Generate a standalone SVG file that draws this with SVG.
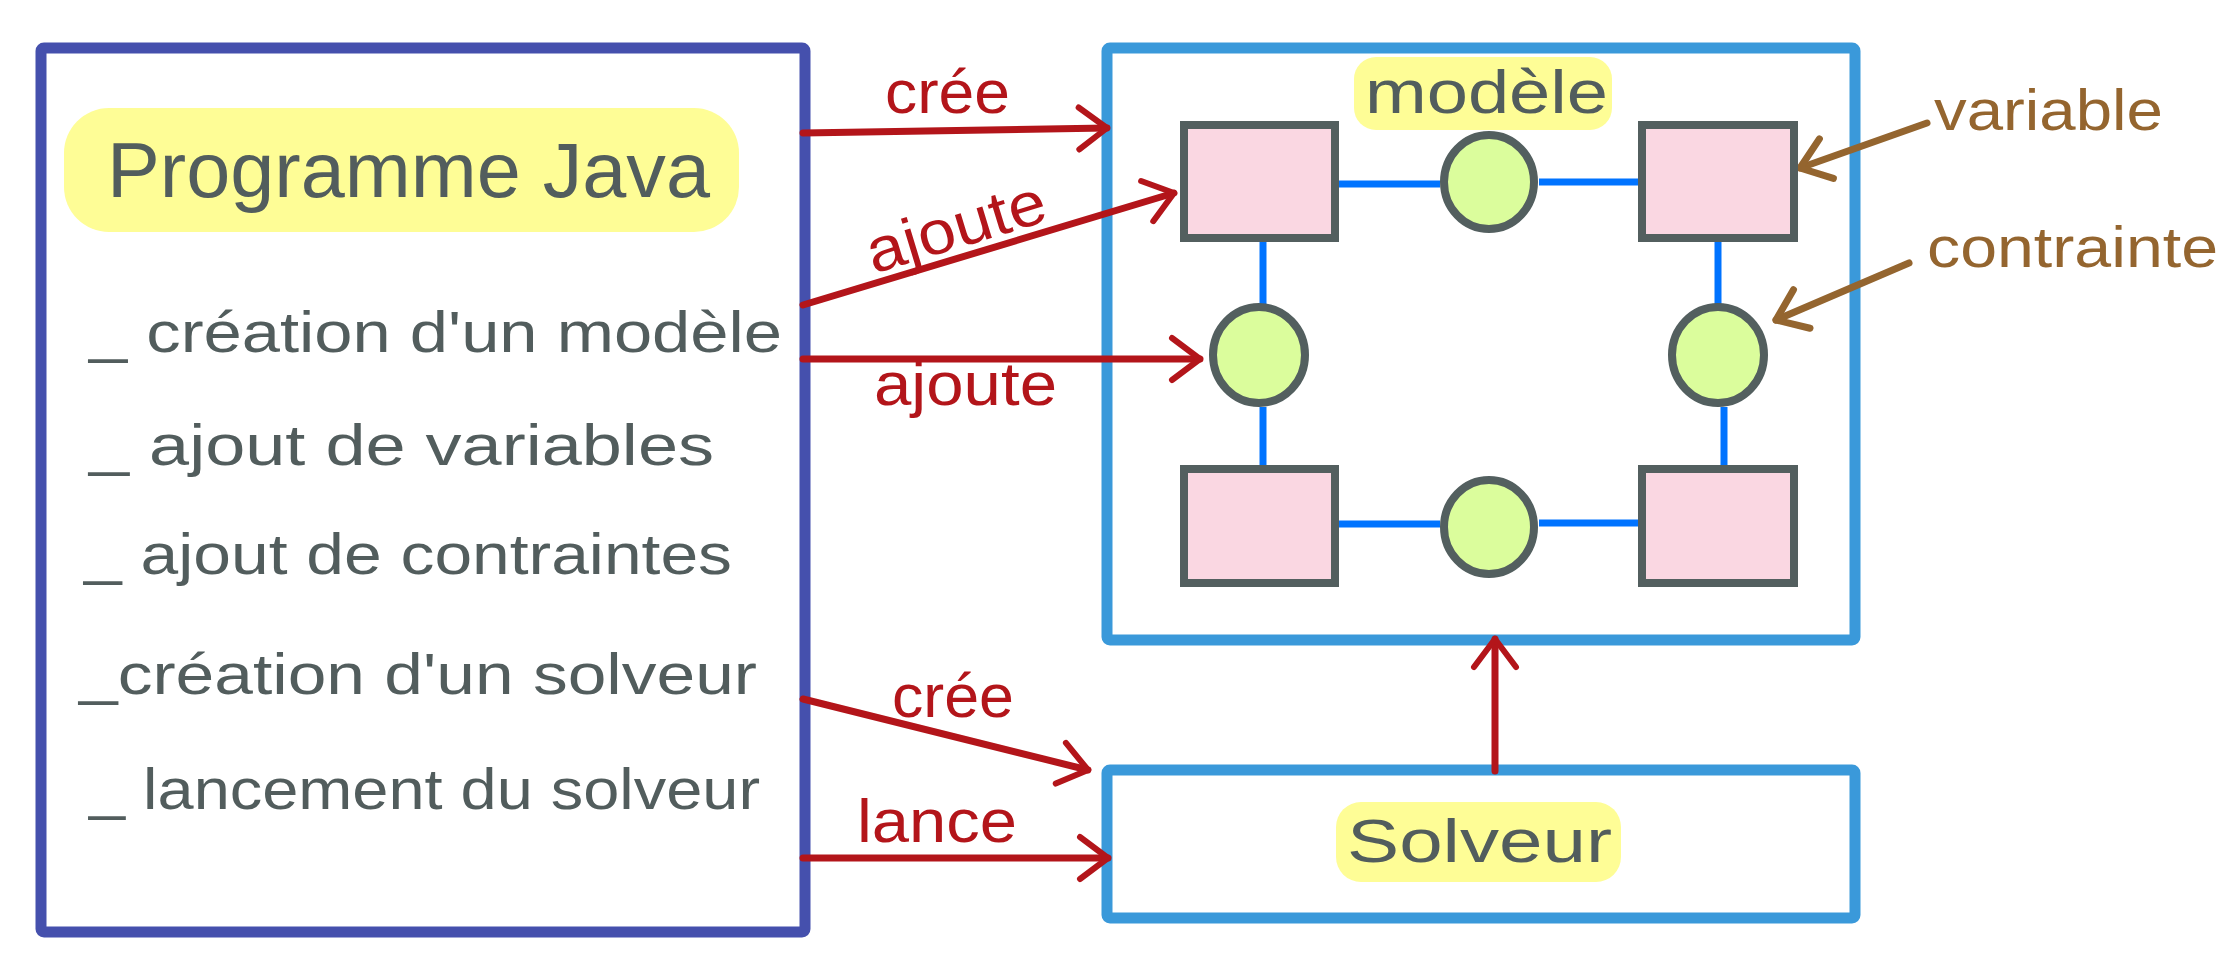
<svg xmlns="http://www.w3.org/2000/svg" width="2238" height="968" viewBox="0 0 2238 968">
<style>
  .frame{fill:#ffffff;stroke-width:11;stroke-linejoin:round}
  .txt{font-family:"Liberation Sans",Arial,sans-serif;fill:#525d5d}
  .red{font-family:"Liberation Sans",Arial,sans-serif;fill:#b3151a}
  .brown{font-family:"Liberation Sans",Arial,sans-serif;fill:#94652f}
  .hl{fill:#fefd96}
  .var{fill:#fad7e2;stroke:#535f5f;stroke-width:8}
  .con{fill:#dbfd9c;stroke:#535f5f;stroke-width:8}
  .edge{stroke:#0073ff;stroke-width:7;fill:none}
  .arr{stroke:#b3151a;stroke-width:7;fill:none;stroke-linecap:round;marker-end:url(#redhead)}
  .arrb{stroke:#94652f;stroke-width:7;fill:none;stroke-linecap:round;marker-end:url(#brownhead)}
</style>
<defs>
  <marker id="redhead" markerUnits="userSpaceOnUse" viewBox="-40 -30 50 60" refX="0" refY="0" markerWidth="50" markerHeight="60" orient="auto">
    <path d="M-28,-21 L0,0 L-28,21" fill="none" stroke="#b3151a" stroke-width="6" stroke-linecap="round" stroke-linejoin="round"/>
  </marker>
  <marker id="brownhead" markerUnits="userSpaceOnUse" viewBox="-40 -30 50 60" refX="0" refY="0" markerWidth="50" markerHeight="60" orient="auto">
    <path d="M-28,-21 L0,0 L-28,21" fill="none" stroke="#94652f" stroke-width="7" stroke-linecap="round" stroke-linejoin="round"/>
  </marker>
</defs>
<rect width="2238" height="968" fill="#ffffff"/>

<g id="programme">
  <rect class="frame" x="41" y="48" width="764" height="884" rx="3" stroke="#4550ad"/>
  <rect class="hl" x="64" y="108" width="675" height="124" rx="45"/>
  <text class="txt" x="107" y="197" font-size="78" textLength="603" lengthAdjust="spacingAndGlyphs">Programme Java</text>
  <text class="txt" x="89" y="352" font-size="58" textLength="693" lengthAdjust="spacingAndGlyphs">_ création d'un modèle</text>
  <text class="txt" x="89" y="465" font-size="58" textLength="625" lengthAdjust="spacingAndGlyphs">_ ajout de variables</text>
  <text class="txt" x="84" y="574" font-size="58" textLength="648" lengthAdjust="spacingAndGlyphs">_ ajout de contraintes</text>
  <text class="txt" x="79" y="694" font-size="58" textLength="678" lengthAdjust="spacingAndGlyphs">_création d'un solveur</text>
  <text class="txt" x="89" y="809" font-size="58" textLength="671" lengthAdjust="spacingAndGlyphs">_ lancement du solveur</text>
</g>

<g id="modele">
  <rect class="frame" x="1107" y="48" width="748" height="592" rx="3" stroke="#3a99da"/>
  <rect class="hl" x="1354" y="57" width="258" height="73" rx="22"/>
  <text class="txt" x="1365" y="113" font-size="62" textLength="243" lengthAdjust="spacingAndGlyphs">modèle</text>
</g>

<g id="solveur">
  <rect class="frame" x="1107" y="770" width="748" height="148" rx="3" stroke="#3a99da"/>
  <rect class="hl" x="1336" y="802" width="285" height="80" rx="25"/>
  <text class="txt" x="1347" y="862" font-size="62" textLength="265" lengthAdjust="spacingAndGlyphs">Solveur</text>
</g>

<g id="connectors">
  <line class="edge" x1="1339" y1="184" x2="1440" y2="184"/>
  <line class="edge" x1="1539" y1="182" x2="1638" y2="182"/>
  <line class="edge" x1="1263" y1="242" x2="1263" y2="304"/>
  <line class="edge" x1="1263" y1="407" x2="1263" y2="465"/>
  <line class="edge" x1="1718" y1="242" x2="1718" y2="304"/>
  <line class="edge" x1="1724" y1="407" x2="1724" y2="465"/>
  <line class="edge" x1="1339" y1="524" x2="1440" y2="524"/>
  <line class="edge" x1="1539" y1="523" x2="1638" y2="523"/>

  <path class="arr" d="M803 133 L1107 128"/>
  <path class="arr" d="M803 305 L1174 193"/>
  <path class="arr" d="M803 359 L1200 359"/>
  <path class="arr" d="M803 699 L1088 770"/>
  <path class="arr" d="M803 858 L1108 858"/>
  <path class="arr" d="M1495 771 L1495 639" stroke-width="6"/>
  <path class="arrb" d="M1927 123 L1800 168"/>
  <path class="arrb" d="M1909 263 L1776 320"/>

  <text class="red" x="885" y="113" font-size="62" textLength="125" lengthAdjust="spacingAndGlyphs">crée</text>
  <text class="red" x="962" y="247" font-size="62" text-anchor="middle" textLength="185" lengthAdjust="spacingAndGlyphs" transform="rotate(-17 962 247)">ajoute</text>
  <text class="red" x="874" y="405" font-size="62" textLength="183" lengthAdjust="spacingAndGlyphs">ajoute</text>
  <text class="red" x="892" y="717" font-size="62" textLength="122" lengthAdjust="spacingAndGlyphs">crée</text>
  <text class="red" x="857" y="842" font-size="62" textLength="160" lengthAdjust="spacingAndGlyphs">lance</text>
  <text class="brown" x="1934" y="130" font-size="58" textLength="229" lengthAdjust="spacingAndGlyphs">variable</text>
  <text class="brown" x="1927" y="267" font-size="58" textLength="291" lengthAdjust="spacingAndGlyphs">contrainte</text>
</g>

<g id="var-tl"><rect class="var" x="1184" y="125" width="151" height="113"/></g>
<g id="var-tr"><rect class="var" x="1642" y="125" width="152" height="113"/></g>
<g id="var-bl"><rect class="var" x="1184" y="469" width="151" height="114"/></g>
<g id="var-br"><rect class="var" x="1642" y="469" width="152" height="114"/></g>
<g id="con-top"><ellipse class="con" cx="1489" cy="182" rx="45" ry="47"/></g>
<g id="con-left"><ellipse class="con" cx="1259" cy="355" rx="46" ry="48"/></g>
<g id="con-right"><ellipse class="con" cx="1718" cy="355" rx="46" ry="48"/></g>
<g id="con-bottom"><ellipse class="con" cx="1489" cy="527" rx="45" ry="47"/></g>
</svg>
